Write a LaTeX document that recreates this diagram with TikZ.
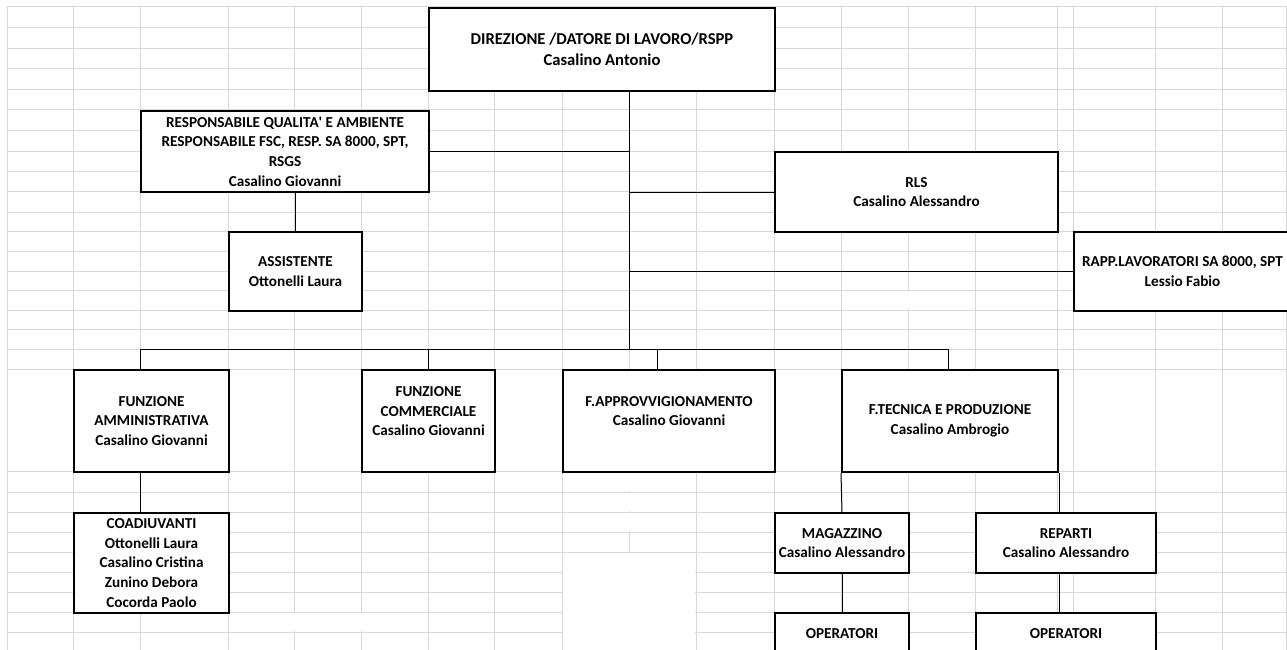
\documentclass[tikz,border=0pt]{standalone}
\usepackage{fontspec}
\setmainfont{Carlito}
\definecolor{gridgray}{RGB}{216,216,216}
\tikzset{
  gridline/.style={draw=gridgray, line width=1pt},
  blank/.style={draw=white, line width=1.6pt},
  box/.style={draw=black, line width=2pt, fill=white, anchor=north west, inner sep=0pt,
    align=center, font=\bfseries\fontsize{15.2}{19.7}\selectfont},
  bigbox/.style={box, font=\bfseries\fontsize{16.6}{21}\selectfont},
  link/.style={draw=black, line width=1pt},
}
\begin{document}
\begin{tikzpicture}[x=1pt,y=-1pt]
\clip (0,0) rectangle (1287,650);
\fill[white] (0,0) rectangle (1287,650);
% spreadsheet grid
\foreach \x in {7,73,140,228,294,361,428,494,562,629,696,774,841,908,975,1057,1073,1155,1222,1286}
  \draw[gridline] (\x,7) -- (\x,651);
\foreach \y in {7,28,49,69,90,110,131,151,171,191,212,231,251,271,290,310,329,349,369,471,492,512,532,552,572,592,612,632}
  \draw[gridline] (7,\y) -- (1288,\y);
% merged cells
\fill[white] (562.6,552.6) rectangle (695.4,652);
\draw[blank] (629,471.6) -- (629,491.4);
\draw[blank] (629,492.6) -- (629,511.4);
\draw[blank] (629,512.6) -- (629,531.4);
\draw[blank] (294,612.6) -- (294,631.4);
\draw[blank] (361,612.6) -- (361,631.4);
\draw[blank] (908,290.6) -- (908,309.4);

% boxes
\node[bigbox, minimum width=346pt, minimum height=83pt] (dir) at (428,7)
  {DIREZIONE /DATORE DI LAVORO/RSPP\\Casalino Antonio};
\node[box, minimum width=288pt, minimum height=81pt] (rq) at (140,110)
  {RESPONSABILE QUALITA\textquotesingle{} E AMBIENTE\\RESPONSABILE FSC, RESP. SA 8000, SPT,\\RSGS\\Casalino Giovanni};
\node[box, minimum width=133pt, minimum height=79pt] (assist) at (228,231)
  {ASSISTENTE\\Ottonelli Laura};
\node[box, minimum width=283pt, minimum height=80pt] (rls) at (774,151)
  {RLS\\Casalino Alessandro};
\node[box, minimum width=217pt, minimum height=79pt] (rapp) at (1073,231)
  {RAPP.LAVORATORI SA 8000, SPT\\Lessio Fabio};
\node[box, minimum width=155pt, minimum height=102pt] (famm) at (73,369)
  {FUNZIONE\\AMMINISTRATIVA\\Casalino Giovanni};
\node[box, minimum width=133pt, minimum height=102pt] (comm) at (361,369)
  {FUNZIONE\\COMMERCIALE\\Casalino Giovanni\\\mbox{}};
\node[box, minimum width=212pt, minimum height=102pt] (appr) at (562,369)
  {F.APPROVVIGIONAMENTO\\Casalino Giovanni\\\mbox{}};
\node[box, minimum width=216pt, minimum height=102pt] (tecn) at (841,369)
  {F.TECNICA E PRODUZIONE\\Casalino Ambrogio};
\node[box, minimum width=155pt, minimum height=100pt] (coad) at (73,512)
  {COADIUVANTI\\Ottonelli Laura\\Casalino Cristina\\Zunino Debora\\Cocorda Paolo};
\node[box, minimum width=134pt, minimum height=60pt] (mag) at (774,512)
  {MAGAZZINO\\Casalino Alessandro};
\node[box, minimum width=180pt, minimum height=60pt] (rep) at (975,512)
  {REPARTI\\Casalino Alessandro};
\node[box, minimum width=134pt, minimum height=41pt] (op1) at (774,612)
  {OPERATORI};
\node[box, minimum width=180pt, minimum height=41pt] (op2) at (975,612)
  {OPERATORI};

% connectors
\coordinate (tr) at (629,349);
\coordinate (busL) at (140,349);
\coordinate (busR) at (948,349);
\coordinate (apX) at (657,349);
\draw[link] (dir.south -| tr) -- (tr);
\draw[link] (rq.east) -- (rq.east -| tr);
\draw[link] (rls.west -| tr) -- (rls.west);
\draw[link] (rapp.west -| tr) -- (rapp.west);
\draw[link] (busL) -- (busR);
\draw[link] (busL) -- (busL |- famm.north);
\draw[link] (comm.north |- busL) -- (comm.north);
\draw[link] (apX) -- (apX |- appr.north);
\draw[link] (busR) -- (busR |- tecn.north);
\draw[link] (assist.north |- rq.south) -- (assist.north);
\draw[link] (famm.south -| busL) -- (coad.north -| busL);
\draw[link] (tecn.south west) -- (mag.north);
\draw[link] (tecn.south east) -- (tecn.south east |- rep.north);
\draw[link] (mag.south) -- (op1.north);
\draw[link] (rep.south -| tecn.south east) -- (op2.north -| tecn.south east);
\end{tikzpicture}
\end{document}
